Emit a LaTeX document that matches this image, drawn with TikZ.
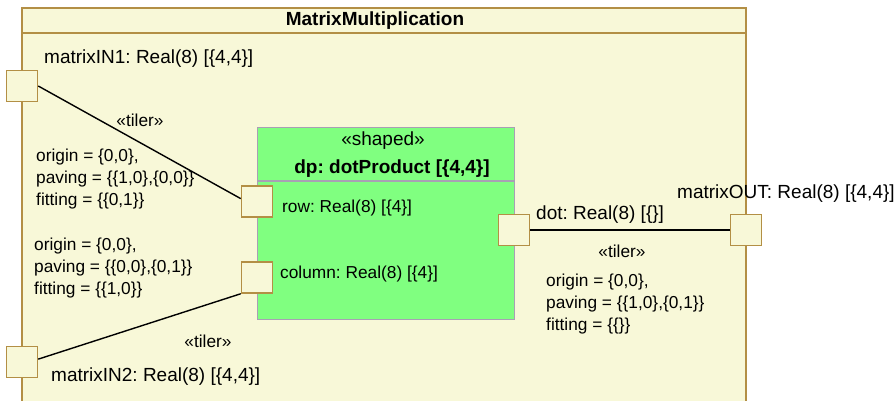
\documentclass[tikz,border=0pt]{standalone}
\usepackage{fontspec}
\setmainfont{Liberation Sans}
\frenchspacing
\usetikzlibrary{positioning}
\definecolor{frameFill}{HTML}{F8F8D8}
\definecolor{frameLine}{HTML}{B38F45}
\definecolor{partFill}{HTML}{80FF80}
\definecolor{partLine}{HTML}{A8A0B4}
\tikzset{
  port/.style={draw=frameLine, line width=1.5pt, fill=frameFill, minimum size=31pt, inner sep=0pt},
  biglbl/.style={font=\fontsize{19}{22}\selectfont, inner sep=0pt},
  smalllbl/.style={font=\fontsize{17.3}{22}\selectfont, inner sep=0pt, align=left},
  boldlbl/.style={font=\fontsize{19}{22}\selectfont\bfseries, inner sep=0pt},
  link/.style={line width=1.4pt, black}
}
\begin{document}
\begin{tikzpicture}[x=1pt, y=-1pt]
    \useasboundingbox (0,0) rectangle (896,401);
    % frame of the block
    \fill[frameFill] (22,8) rectangle (746,401);
    \draw[frameLine, line width=1.5pt] (22,401) -- (22,8) -- (746,8) -- (746,401);
    \draw[frameLine, line width=1.5pt] (22,33) -- (746,33);
    \node[boldlbl] (title) at (375,21) {MatrixMultiplication};

    % part dp
    \node[draw=partLine, fill=partFill, line width=1.2pt, minimum width=257pt, minimum height=192pt, inner sep=0pt, anchor=north west] (dp) at (257,127) {};
    \draw[partLine, line width=1.2pt] (dp.west |- 0,181) -- (dp.east |- 0,181);
    \node[biglbl] (stereo) at (383,141) {«shaped»};
    \node[boldlbl] (dpname) at (392,169) {dp: dotProduct [\{4,4\}]};

    % ports
    \node[port] (in1) at (22,86) {};
    \node[port] (in2) at (22,362) {};
    \node[port] (row) at (257,201.5) {};
    \node[port] (col) at (257,277.5) {};
    \node[port] (dot) at (514,230) {};
    \node[port] (out) at (746,230) {};

    \node[biglbl, anchor=west] (in1lbl) at (44,59) {matrixIN1: Real(8) [\{4,4\}]};
    \node[biglbl, anchor=west] (in2lbl) at (51,377) {matrixIN2: Real(8) [\{4,4\}]};
    \node[smalllbl, anchor=west] (rowlbl) at (282,208) {row: Real(8) [\{4\}]};
    \node[smalllbl, anchor=west] (collbl) at (280,274) {column: Real(8) [\{4\}]};
    \node[biglbl, anchor=west] (dotlbl) at (536,215) {dot: Real(8) [\{\}]};
    \node[biglbl, anchor=west] (outlbl) at (677,194) {matrixOUT: Real(8) [\{4,4\}]};

    % tiler connectors
    \draw[link] (in1.east) -- (row.170);
    \draw[link] (in2.10) -- (col.south west);
    \draw[link] (dot.east) -- (out.west);

    \node[smalllbl] (tiler1) at (140,120) {«tiler»};
    \node[smalllbl] (tiler2) at (208,341) {«tiler»};
    \node[smalllbl] (tiler3) at (622,251) {«tiler»};

    \node[smalllbl, anchor=west] (spec1) at (36,179) {origin = \{0,0\},\\paving = \{\{1,0\},\{0,0\}\}\\fitting = \{\{0,1\}\}};
    \node[smalllbl, anchor=west] (spec2) at (34,268) {origin = \{0,0\},\\paving = \{\{0,0\},\{0,1\}\}\\fitting = \{\{1,0\}\}};
    \node[smalllbl, anchor=west] (spec3) at (546,304.5) {origin = \{0,0\},\\paving = \{\{1,0\},\{0,1\}\}\\fitting = \{\{\}\}};
\end{tikzpicture}
\end{document}
